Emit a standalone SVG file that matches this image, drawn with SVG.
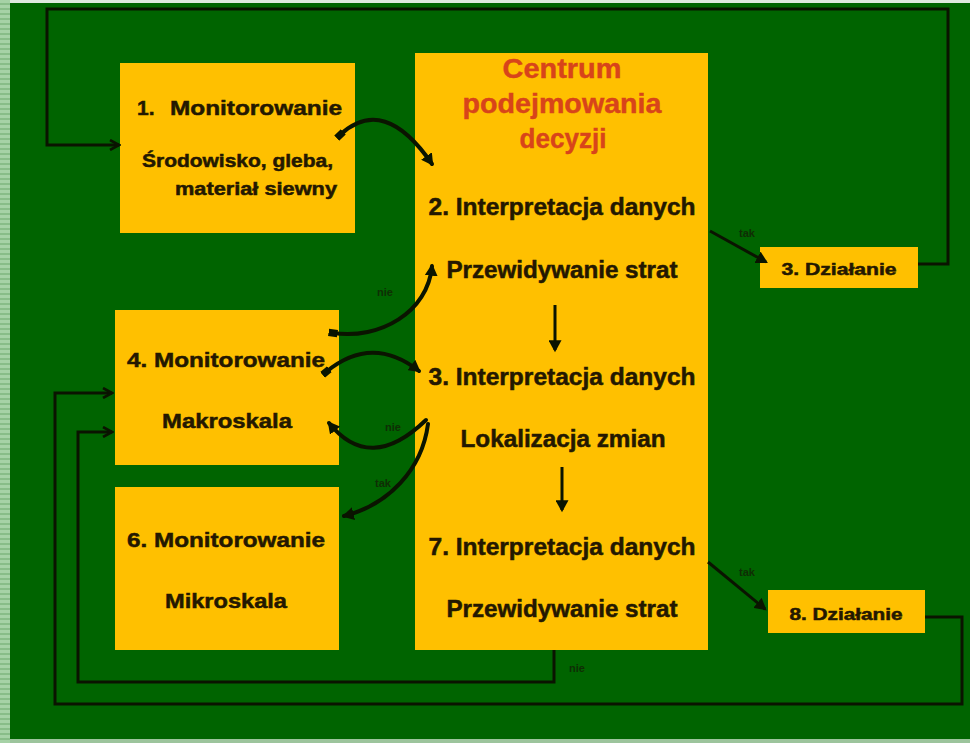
<svg xmlns="http://www.w3.org/2000/svg" width="970" height="743" viewBox="0 0 970 743">
<defs>
<pattern id="stripes" x="0" y="0" width="10" height="5" patternUnits="userSpaceOnUse">
<rect x="0" y="0" width="10" height="3" fill="#a6d2a6"/>
<rect x="0" y="3" width="10" height="2" fill="#88bd88"/>
</pattern>
<marker id="open" viewBox="0 0 12 12" refX="10" refY="6" markerWidth="12" markerHeight="12" markerUnits="userSpaceOnUse" orient="auto">
<path d="M1,1 L10,6 L1,11" fill="none" stroke="#0a1400" stroke-width="2.6"/>
</marker>
<marker id="solid" viewBox="0 0 12 12" refX="9" refY="6" markerWidth="13" markerHeight="13" markerUnits="userSpaceOnUse" orient="auto">
<path d="M0,0 L11,6 L0,12 Z" fill="#0a1400"/>
</marker>
<marker id="dot" viewBox="0 0 10 10" refX="5" refY="5" markerWidth="9" markerHeight="9" markerUnits="userSpaceOnUse" orient="auto">
<rect x="0" y="1" width="10" height="8" fill="#0a1400"/>
</marker>
</defs>
<style>
.box{fill:#ffc000;}
.t{font-family:"Liberation Sans",Arial,sans-serif;font-weight:bold;fill:#241800;stroke:#241800;stroke-width:0.5;}
.red{font-family:"Liberation Sans",Arial,sans-serif;font-weight:bold;fill:#d8441a;stroke:#d8441a;stroke-width:0.4;}
.lbl{font-family:"Liberation Sans",Arial,sans-serif;font-weight:bold;font-size:11px;fill:#0f2e05;}
.ln{fill:none;stroke:#0a1400;stroke-width:3;}
.cv{fill:none;stroke:#0a1400;stroke-width:4;stroke-linecap:round;}
</style>
<rect x="0" y="0" width="970" height="743" fill="#006400"/>
<rect x="0" y="0" width="10" height="743" fill="url(#stripes)"/>
<rect x="10" y="0" width="960" height="3" fill="#dfe9df"/>
<rect x="10" y="739" width="960" height="4" fill="#9cc49c"/>

<g id="node1">
<rect class="box" x="120" y="63" width="235" height="170"/>
<text class="t" x="137" y="115" font-size="21">1.</text>
<text class="t" x="170" y="115" font-size="21" textLength="172" lengthAdjust="spacingAndGlyphs">Monitorowanie</text>
<text class="t" x="142" y="167" font-size="18" textLength="191" lengthAdjust="spacingAndGlyphs">Środowisko, gleba,</text>
<text class="t" x="175" y="195" font-size="18" textLength="162" lengthAdjust="spacingAndGlyphs">materiał  siewny</text>
</g>

<g id="centrum">
<rect class="box" x="415" y="53" width="293" height="597"/>
<text class="red" x="562" y="78" font-size="27" text-anchor="middle" textLength="119" lengthAdjust="spacingAndGlyphs">Centrum</text>
<text class="red" x="562" y="113" font-size="27" text-anchor="middle" textLength="199" lengthAdjust="spacingAndGlyphs">podejmowania</text>
<text class="red" x="563" y="148" font-size="27" text-anchor="middle" textLength="87" lengthAdjust="spacingAndGlyphs">decyzji</text>
<text class="t" x="562" y="215" font-size="23" text-anchor="middle" textLength="267" lengthAdjust="spacingAndGlyphs">2. Interpretacja danych</text>
<text class="t" x="562" y="278" font-size="23" text-anchor="middle" textLength="231" lengthAdjust="spacingAndGlyphs">Przewidywanie strat</text>
<text class="t" x="562" y="385" font-size="23" text-anchor="middle" textLength="267" lengthAdjust="spacingAndGlyphs">3. Interpretacja danych</text>
<text class="t" x="563" y="447" font-size="23" text-anchor="middle" textLength="205" lengthAdjust="spacingAndGlyphs">Lokalizacja zmian</text>
<text class="t" x="562" y="555" font-size="23" text-anchor="middle" textLength="267" lengthAdjust="spacingAndGlyphs">7. Interpretacja danych</text>
<text class="t" x="562" y="617" font-size="23" text-anchor="middle" textLength="231" lengthAdjust="spacingAndGlyphs">Przewidywanie strat</text>
</g>

<g id="dzialanie3">
<rect class="box" x="760" y="247" width="158" height="41"/>
<text class="t" x="839" y="275" font-size="16" text-anchor="middle" textLength="115" lengthAdjust="spacingAndGlyphs">3. Działanie</text>
</g>

<g id="node4">
<rect class="box" x="115" y="310" width="224" height="155"/>
<text class="t" x="226" y="367" font-size="21" text-anchor="middle" textLength="198" lengthAdjust="spacingAndGlyphs">4. Monitorowanie</text>
<text class="t" x="227" y="428" font-size="21" text-anchor="middle" textLength="130" lengthAdjust="spacingAndGlyphs">Makroskala</text>
</g>

<g id="node6">
<rect class="box" x="115" y="487" width="224" height="163"/>
<text class="t" x="226" y="547" font-size="21" text-anchor="middle" textLength="198" lengthAdjust="spacingAndGlyphs">6. Monitorowanie</text>
<text class="t" x="226" y="608" font-size="21" text-anchor="middle" textLength="122" lengthAdjust="spacingAndGlyphs">Mikroskala</text>
</g>

<g id="dzialanie8">
<rect class="box" x="768" y="590" width="157" height="43"/>
<text class="t" x="846" y="620" font-size="16" text-anchor="middle" textLength="113" lengthAdjust="spacingAndGlyphs">8. Działanie</text>
</g>

<g id="connectors">
<polyline class="ln" points="918,264 948,264 948,9 47,9 47,145 119,145" marker-end="url(#open)"/>
<polyline class="ln" points="925,617 962,617 962,704 55,704 55,393 112,393" marker-end="url(#open)"/>
<polyline class="ln" points="554,650 554,682 78,682 78,432 112,432" marker-end="url(#open)"/>
<line class="ln" x1="710" y1="231" x2="766" y2="262" marker-end="url(#solid)"/>
<line class="ln" x1="708" y1="562" x2="765" y2="609" marker-end="url(#solid)"/>
<line class="ln" x1="555" y1="305" x2="555" y2="350" marker-end="url(#solid)"/>
<line class="ln" x1="562" y1="467" x2="562" y2="510" marker-end="url(#solid)"/>
<path class="cv" d="M340,135 Q384,94 432,164" marker-start="url(#dot)" marker-end="url(#solid)"/>
<path class="cv" d="M333,333 C380,340 428,312 432,266" marker-start="url(#dot)" marker-end="url(#solid)"/>
<path class="cv" d="M326,372 Q372,334 419,371" marker-start="url(#dot)" marker-end="url(#solid)"/>
<path class="cv" d="M426,420 Q370,474 329,423" marker-end="url(#solid)"/>
<path class="cv" d="M428,424 C422,470 388,505 344,516" marker-end="url(#solid)"/>
<text class="lbl" x="385" y="296" text-anchor="middle">nie</text>
<text class="lbl" x="747" y="237" text-anchor="middle">tak</text>
<text class="lbl" x="393" y="431" text-anchor="middle">nie</text>
<text class="lbl" x="383" y="487" text-anchor="middle">tak</text>
<text class="lbl" x="747" y="576" text-anchor="middle">tak</text>
<text class="lbl" x="577" y="672" text-anchor="middle">nie</text>
</g>
</svg>
